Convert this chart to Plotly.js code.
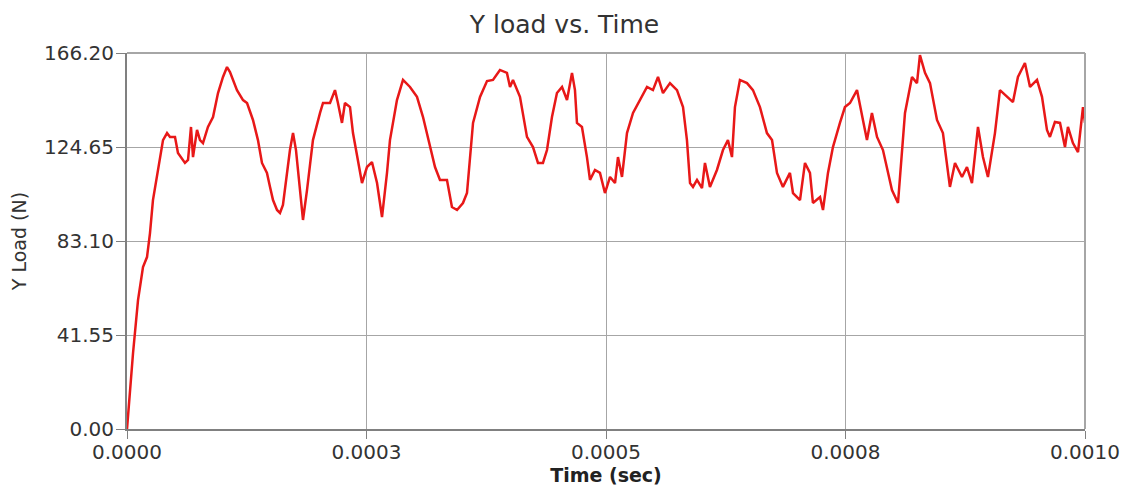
<!DOCTYPE html>
<html>
<head>
<meta charset="utf-8">
<script src="https://cdn.plot.ly/plotly-3.0.1.min.js"></script>
<style>html,body{margin:0;padding:0;background:#fff;}#chart{width:1129px;height:490px;}</style>
</head>
<body>
<div id="chart"></div>
<script>
// Time in microseconds
const timeUs = [0,3.1,6.3,11.5,16.7,20.9,24.0,27.1,31.3,37.6,41.8,44.9,50.1,53.2,60.5,63.7,66.8,68.9,73.1,76.2,
79.3,84.5,89.8,95.0,100.2,104.4,107.5,114.8,121.1,125.3,131.5,136.7,140.9,146.1,149.3,152.4,156.6,159.7,162.8,167.0,
170.1,173.3,176.4,180.6,183.7,187.9,194.1,201.5,204.6,211.9,217.1,220.2,224.4,227.5,232.8,235.9,240.1,245.3,250.5,255.7,
261.0,266.2,271.4,274.5,281.8,288.1,295.4,302.7,309.0,316.3,321.5,326.7,334.0,339.2,344.5,350.7,354.9,361.2,368.5,375.8,
382.0,389.3,396.6,399.8,402.9,410.2,417.5,423.8,429.0,434.2,438.4,443.6,448.8,454.1,459.3,464.5,467.6,469.7,474.9,480.1,
483.3,488.5,493.7,498.9,504.2,509.4,512.5,516.7,521.9,528.2,535.5,542.8,549.0,554.3,559.5,566.8,574.1,580.4,584.5,587.7,
590.8,595.0,600.2,603.3,608.5,615.8,622.1,627.3,631.5,634.6,639.8,647.2,653.4,660.7,668.0,673.3,678.5,684.7,692.0,695.2,
702.5,707.7,712.9,716.0,723.4,726.5,731.7,736.9,744.2,749.4,754.7,762.0,768.2,772.4,777.6,782.9,789.1,798.5,804.8,812.1,
819.4,824.6,827.7,833.0,838.2,845.5,851.7,859.0,864.3,871.6,876.8,882.0,888.3,893.5,898.7,906.0,911.2,918.5,924.8,930.0,
937.3,942.6,949.9,955.1,960.3,963.4,968.6,973.9,979.1,982.2,987.4,992.7,997.9,1000.0];
// Y load in newtons
const yLoad = [0,17.2,33.6,57.0,71.6,76.0,86.6,101.2,111.4,127.7,130.8,129.1,129.1,122.0,117.6,118.9,133.5,120.2,132.2,127.7,
126.4,133.5,137.9,148.5,155.6,160.0,157.8,149.8,145.4,144.1,136.6,127.7,117.6,113.2,107.0,101.2,96.8,95.5,99.0,112.3,
123.3,130.8,123.3,105.6,92.4,105.6,127.7,139.7,144.1,144.1,149.8,144.1,135.3,144.1,142.3,130.8,120.2,108.7,115.8,118.0,
108.7,93.7,113.2,127.7,145.4,154.3,151.2,146.8,137.9,124.6,115.8,110.1,110.1,98.1,96.8,99.9,104.3,135.3,146.8,153.8,
154.3,158.7,157.4,151.2,154.3,146.8,129.1,124.6,117.6,117.6,123.3,137.9,148.5,151.2,145.4,157.4,149.8,135.3,133.5,120.2,
110.1,114.5,113.2,104.3,111.4,108.7,120.2,111.4,130.8,139.7,145.4,151.2,149.8,155.6,148.5,152.9,149.8,142.3,127.7,108.7,
107.0,110.1,106.5,117.6,107.0,114.5,123.3,127.7,120.2,142.3,154.3,152.9,149.8,142.3,130.8,127.7,113.2,107.0,113.2,104.3,
101.2,117.6,113.2,99.9,102.5,96.8,113.2,124.6,135.3,142.3,144.1,149.8,136.6,127.7,139.7,129.1,123.3,105.6,99.9,139.7,
155.6,152.9,165.3,157.4,152.9,136.6,130.8,107.0,117.6,111.4,115.8,108.7,133.5,120.2,111.4,130.8,149.8,146.8,144.5,155.6,
161.8,151.2,154.3,146.8,132.2,129.1,135.7,135.3,124.6,133.5,126.4,122.4,142.3,135.3];

const xTickVals = [0, 0.00025, 0.0005, 0.00075, 0.001];
const xTickText = ['0.0000', '0.0003', '0.0005', '0.0008', '0.0010'];
const yTickVals = [0, 41.55, 83.10, 124.65, 166.20];
const yTickText = ['0.00', '41.55', '83.10', '124.65', '166.20'];

const timeSec = timeUs.map(t => t * 1e-6);

const trace = {
  x: timeSec, y: yLoad, type: 'scatter', mode: 'lines',
  line: {color: '#e81818', width: 2.5}, hoverinfo: 'none'
};

const font = 'DejaVu Sans, Verdana, sans-serif';
const layout = {
  width: 1129, height: 490,
  margin: {l: 127, r: 44, t: 53, b: 61},
  paper_bgcolor: '#ffffff', plot_bgcolor: '#ffffff',
  showlegend: false,
  title: {text: 'Y load vs. Time', x: 0.5, xref: 'container', xanchor: 'center', y: 0.95, yref: 'container', yanchor: 'middle',
          font: {family: font, size: 25, color: '#333333'}},
  xaxis: {
    range: [0, 0.001], tickvals: xTickVals, ticktext: xTickText,
    showgrid: true, gridcolor: '#a6a6a6', gridwidth: 1, zeroline: false,
    showline: true, linecolor: '#808080', linewidth: 2,
    ticks: 'outside', ticklen: 8, tickcolor: '#808080', tickwidth: 1,
    ticklabelstandoff: -4,
    tickfont: {family: font, size: 20, color: '#333333'},
    title: {text: '<b>Time (sec)</b>', standoff: 6, font: {family: font, size: 19, color: '#222222'}}
  },
  yaxis: {
    range: [0, 166.2], tickvals: yTickVals, ticktext: yTickText,
    showgrid: true, gridcolor: '#a6a6a6', gridwidth: 1, zeroline: false,
    showline: true, linecolor: '#808080', linewidth: 2,
    ticks: 'outside', ticklen: 9, tickcolor: '#808080', tickwidth: 1,
    ticklabelstandoff: -2,
    tickfont: {family: font, size: 20, color: '#333333'},
    title: {text: 'Y Load (N)', standoff: 12, font: {family: font, size: 19, color: '#333333'}}
  },
  shapes: [
    {type: 'line', xref: 'paper', yref: 'paper', x0: 0, x1: 1, y0: 1, y1: 1, line: {color: '#a6a6a6', width: 2}},
    {type: 'line', xref: 'paper', yref: 'paper', x0: 1, x1: 1, y0: 0, y1: 1, line: {color: '#a6a6a6', width: 2}}
  ]
};

Plotly.newPlot('chart', [trace], layout, {staticPlot: true, displayModeBar: false});
</script>
</body>
</html>
